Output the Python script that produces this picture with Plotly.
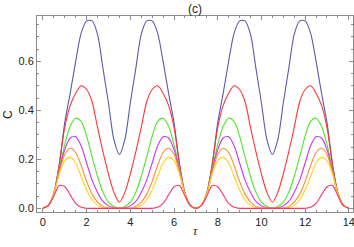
import plotly.graph_objects as go

# one period of tau (period 7), curves at 0.25 steps
tau_period = [i * 0.25 for i in range(29)]

blue = [0.0, 0.012, 0.062, 0.18, 0.35, 0.47, 0.6, 0.715, 0.765, 0.765, 0.71, 0.57, 0.43, 0.28, 0.22,
        0.28, 0.43, 0.57, 0.71, 0.765, 0.765, 0.715, 0.6, 0.47, 0.35, 0.18, 0.062, 0.012, 0.0]
red = [0.0, 0.012, 0.062, 0.18, 0.33, 0.42, 0.47, 0.5, 0.485, 0.435, 0.33, 0.23, 0.14, 0.065, 0.025,
       0.065, 0.14, 0.23, 0.33, 0.435, 0.485, 0.5, 0.47, 0.42, 0.33, 0.18, 0.062, 0.012, 0.0]
green = [0.0, 0.012, 0.061, 0.162, 0.26, 0.335, 0.368, 0.355, 0.295, 0.21, 0.13, 0.065, 0.025, 0.007, 0.002,
         0.007, 0.025, 0.065, 0.13, 0.21, 0.295, 0.355, 0.368, 0.335, 0.26, 0.162, 0.061, 0.012, 0.0]
magenta = [0.0, 0.012, 0.06, 0.155, 0.24, 0.287, 0.292, 0.255, 0.185, 0.115, 0.065, 0.028, 0.01, 0.002, 0.0,
           0.002, 0.01, 0.028, 0.065, 0.115, 0.185, 0.255, 0.292, 0.287, 0.24, 0.155, 0.06, 0.012, 0.0]
orange = [0.0, 0.012, 0.059, 0.148, 0.22, 0.245, 0.228, 0.175, 0.11, 0.058, 0.025, 0.008, 0.001, 0.0, 0.0,
          0.0, 0.001, 0.008, 0.025, 0.058, 0.11, 0.175, 0.228, 0.245, 0.22, 0.148, 0.059, 0.012, 0.0]
yellow = [0.0, 0.012, 0.058, 0.14, 0.195, 0.208, 0.185, 0.13, 0.075, 0.035, 0.012, 0.003, 0.0, 0.0, 0.0,
          0.0, 0.0, 0.003, 0.012, 0.035, 0.075, 0.13, 0.185, 0.208, 0.195, 0.14, 0.058, 0.012, 0.0]
pink = [0.0, 0.011, 0.05, 0.093, 0.088, 0.055, 0.02, 0.004, 0.0, 0.0, 0.0, 0.0, 0.0, 0.0, 0.0,
        0.0, 0.0, 0.0, 0.0, 0.0, 0.0, 0.004, 0.02, 0.055, 0.088, 0.093, 0.05, 0.011, 0.0]

# two periods: 0..14
tau = tau_period + [t + 7 for t in tau_period[1:]]

series = [
    (blue, "#5a5aad"),
    (red, "#ff3333"),
    (green, "#4ee625"),
    (magenta, "#cc33ff"),
    (orange, "#ff8c33"),
    (yellow, "#ffd21a"),
    (pink, "#ff3366"),
]

fig = go.Figure()
for vals, col in series:
    fig.add_trace(go.Scatter(x=tau, y=vals + vals[1:], mode="lines",
                             line=dict(color=col, width=1.1, shape="spline", smoothing=0.8),
                             showlegend=False))

axis_style = dict(showgrid=False, zeroline=False, showline=True, linecolor="#8c8c8c", linewidth=1,
                  mirror="ticks", ticks="inside", tickcolor="#8c8c8c", ticklen=4, automargin=False,
                  ticklabeloverflow="allow",
                  tickfont=dict(family="Liberation Sans", size=11, color="#222"))

fig.update_xaxes(range=[-0.27, 14.19], dtick=2, tick0=0,
                 minor=dict(ticks="inside", dtick=0.5, ticklen=2, tickcolor="#8c8c8c"),
                 **axis_style)
fig.update_yaxes(range=[-0.015, 0.785], dtick=0.2, tick0=0, tickformat=".1f",
                 minor=dict(ticks="inside", dtick=0.05, ticklen=2, tickcolor="#8c8c8c"),
                 **axis_style)

fig.update_layout(
    width=354, height=247,
    margin=dict(l=37, r=1, t=16, b=35),
    paper_bgcolor="white", plot_bgcolor="white",
    title=dict(text="(c)", x=0.551, xanchor="center", y=0.965, yanchor="middle",
               font=dict(family="Liberation Sans", size=12, color="#222")),
    annotations=[
        dict(text="<i>τ</i>", xref="paper", yref="paper", x=0.5, y=-0.098, yanchor="middle", showarrow=False,
             font=dict(family="Liberation Serif", size=12, color="#222")),
        dict(text="C", xref="paper", yref="paper", x=-0.092, y=0.5, xanchor="center", yanchor="middle",
             textangle=-90, showarrow=False, font=dict(family="Liberation Sans", size=12, color="#222")),
    ],
)

# page body has a default 8px margin; drop it so the figure fills the window
fig.write_html("out.html", config={"displayModeBar": False},
               post_script="document.body.style.margin='0';")
